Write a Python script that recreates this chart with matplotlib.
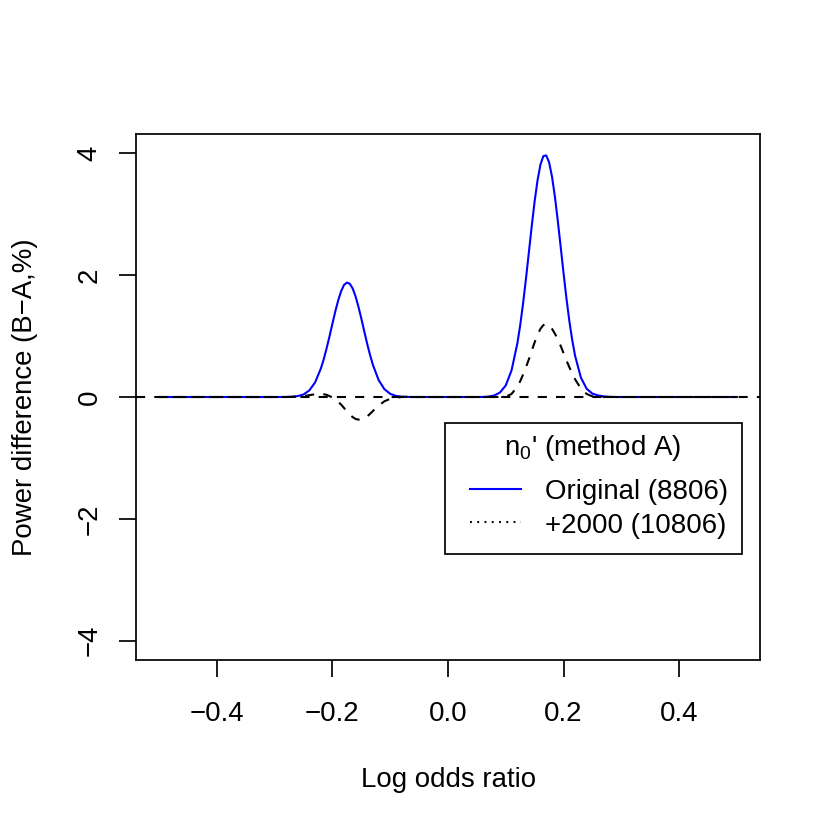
import matplotlib
matplotlib.use('Agg')
import matplotlib.pyplot as plt
from matplotlib.lines import Line2D
from matplotlib.patches import Rectangle

# --- datos ---
log_or = [-0.50, -0.40, -0.30,
          -0.29, -0.28, -0.27, -0.26, -0.25, -0.24, -0.23,
          -0.22, -0.215, -0.21, -0.205, -0.20, -0.195, -0.19, -0.185, -0.18, -0.175,
          -0.17, -0.165, -0.16, -0.155, -0.15, -0.145, -0.14, -0.135, -0.13,
          -0.12, -0.11, -0.10, -0.09, -0.08, -0.07, -0.06,
          -0.05, 0.00, 0.05,
          0.06, 0.07, 0.08, 0.09, 0.10, 0.11,
          0.12, 0.125, 0.13, 0.135, 0.14, 0.145, 0.15, 0.155, 0.16, 0.165,
          0.17, 0.175, 0.18, 0.185, 0.19, 0.195, 0.20, 0.205, 0.21, 0.215, 0.22,
          0.23, 0.24, 0.25, 0.26, 0.27, 0.28, 0.29,
          0.30, 0.40, 0.50]

diff_original = [0, 0, 0,
                 0.000, 0.001, 0.004, 0.015, 0.042, 0.108, 0.240,
                 0.469, 0.623, 0.804, 1.000, 1.206, 1.408, 1.589, 1.737, 1.840, 1.879,
                 1.860, 1.783, 1.653, 1.483, 1.288, 1.082, 0.880, 0.693, 0.528,
                 0.277, 0.128, 0.052, 0.018, 0.006, 0.001, 0.000,
                 0, 0, 0,
                 0.001, 0.007, 0.025, 0.074, 0.191, 0.438,
                 0.878, 1.182, 1.542, 1.947, 2.380, 2.813, 3.218, 3.562, 3.817, 3.957,
                 3.968, 3.854, 3.620, 3.292, 2.896, 2.467, 2.033, 1.620, 1.250, 0.934, 0.675,
                 0.319, 0.135, 0.055, 0.025, 0.010, 0.003, 0.000,
                 0, 0, 0]

diff_plus2000 = [0, 0, 0,
                 0.000, 0.000, 0.002, 0.005, 0.015, 0.030, 0.045,
                 0.050, 0.045, 0.035, 0.015, -0.010, -0.040, -0.080, -0.125, -0.180, -0.235,
                 -0.290, -0.330, -0.360, -0.372, -0.370, -0.350, -0.320, -0.278, -0.230,
                 -0.140, -0.070, -0.030, -0.010, 0.000, 0.005, 0.000,
                 0, 0, 0,
                 0, 0, 0, 0, 0.005, 0.050,
                 0.170, 0.260, 0.370, 0.490, 0.620, 0.760, 0.900, 1.020, 1.120, 1.180,
                 1.200, 1.175, 1.120, 1.040, 0.950, 0.840, 0.720, 0.600, 0.490, 0.385, 0.290,
                 0.140, 0.050, 0.010, 0, 0, 0, 0,
                 0, 0, 0]

x_ticks = [-0.4, -0.2, 0.0, 0.2, 0.4]
y_ticks = [-4, -2, 0, 2, 4]
legend_title = "n$_0$' (method A)"
legend_labels = ["Original (8806)", "+2000 (10806)"]

# --- estilo tipo R base ---
plt.rcParams['font.family'] = ['Liberation Sans', 'DejaVu Sans']
plt.rcParams['font.size'] = 12
plt.rcParams['mathtext.fontset'] = 'custom'
plt.rcParams['mathtext.rm'] = 'Liberation Sans'
plt.rcParams['mathtext.it'] = 'Liberation Sans:italic'
plt.rcParams['axes.unicode_minus'] = True

W = 830.0
def fx(px):
    return px / W
def fy(py):
    return 1 - py / W

LW = 0.9

fig = plt.figure(figsize=(5, 5), dpi=166)
ax = fig.add_axes([fx(136), fy(660), fx(760) - fx(136), fy(134) - fy(660)])

ax.plot(log_or, diff_original, color='#0000FF', lw=LW)
ax.plot(log_or, diff_plus2000, color='black', lw=LW, dashes=(4.4, 4.4))
ax.axhline(0, color='black', lw=LW, dashes=(4.4, 4.4))

ax.set_xlim(-0.54, 0.54)
ax.set_ylim(-4.32, 4.32)
ax.set_xticks(x_ticks)
ax.set_xticklabels([f"{v:.1f}".replace('-', '\u2212') for v in x_ticks])
ax.set_yticks(y_ticks)
ax.set_yticklabels([str(v).replace('-', '\u2212') for v in y_ticks], rotation=90, va='center')
ax.tick_params(axis='both', direction='out', length=7.2, width=0.75, labelsize=12)
ax.tick_params(axis='x', pad=10.5)
ax.tick_params(axis='y', pad=7.3)
for sp in ax.spines.values():
    sp.set_linewidth(0.75)

fig.text(fx(448.3), fy(786.7), "Log odds ratio", ha='center', va='baseline', fontsize=12)
fig.text(fx(31.7), fy(397), "Power difference (B\u2212A,%)", rotation=90,
         rotation_mode='anchor', ha='center', va='baseline', fontsize=12)

# --- leyenda dibujada a mano como en R ---
fig.add_artist(Rectangle((fx(445), fy(554)), fx(741.7) - fx(445), fy(422.7) - fy(554),
                         transform=fig.transFigure, fill=False, lw=0.75, ec='black'))
fig.text(fx(593), fy(455), legend_title, ha='center', va='baseline', fontsize=12)
fig.add_artist(Line2D([fx(470), fx(521)], [fy(489), fy(489)], transform=fig.transFigure,
                      color='#0000FF', lw=LW))
fig.add_artist(Line2D([fx(470), fx(521)], [fy(522.3), fy(522.3)], transform=fig.transFigure,
                      color='black', lw=LW, dashes=(0.9, 2.6)))
fig.text(fx(545), fy(499.3), legend_labels[0], ha='left', va='baseline', fontsize=12)
fig.text(fx(545), fy(532.7), legend_labels[1], ha='left', va='baseline', fontsize=12)

fig.savefig('out.png', dpi=166)
